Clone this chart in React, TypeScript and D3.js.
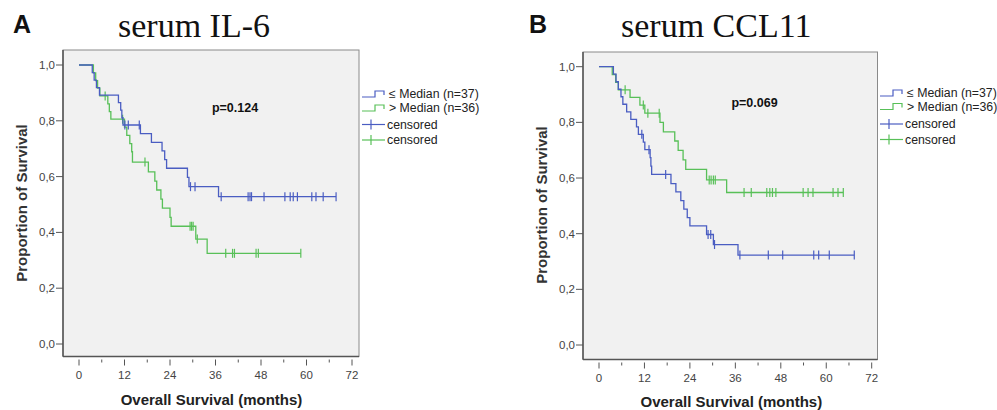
import React from "react";
import * as d3 from "d3";

// ---------- data ----------
const monthTicks = [0, 12, 24, 36, 48, 60, 72];
const monthMinor = [6, 18, 30, 42, 54, 66];
const survTicks = [0, 0.2, 0.4, 0.6, 0.8, 1.0];
const survTickLabels = ["0,0", "0,2", "0,4", "0,6", "0,8", "1,0"];
const legendLabels = ["≤ Median (n=37)", "> Median (n=36)", "censored", "censored"];

// Panel A: serum IL-6  [month, survival after event]
const il6LowEvents: [number, number][] = [
  [3.5, 0.973], [4.0, 0.946], [4.6, 0.919], [5.4, 0.892],
  [10.4, 0.865], [11.0, 0.838], [11.3, 0.811], [11.6, 0.785],
  [16.2, 0.754], [19.1, 0.723], [21.9, 0.692], [22.6, 0.661], [23.1, 0.630],
  [28.6, 0.597], [29.0, 0.564], [36.8, 0.528],
];
const il6LowCensored = [12.1, 13.0, 15.9, 29.4, 30.6, 37.5, 44.6, 45.1, 45.5, 48.8, 54.3, 55.7, 56.5, 57.6, 61.4, 62.5, 64.4, 67.8];

const il6HighEvents: [number, number][] = [
  [3.8, 0.972], [4.4, 0.944], [4.9, 0.917], [5.5, 0.889],
  [7.6, 0.861], [8.0, 0.833], [8.4, 0.806],
  [12.0, 0.777], [12.6, 0.748], [13.4, 0.718], [13.9, 0.689], [14.1, 0.652],
  [18.3, 0.617], [20.0, 0.584], [20.5, 0.552], [21.6, 0.519], [22.0, 0.487],
  [24.0, 0.454], [24.3, 0.422], [30.8, 0.376], [33.8, 0.325],
];
const il6HighCensored = [6.9, 11.5, 17.4, 29.3, 29.7, 30.1, 31.2, 38.7, 40.5, 41.0, 46.7, 47.3, 58.5];

// Panel B: serum CCL11
const cclLowEvents: [number, number][] = [
  [3.8, 0.973], [4.5, 0.946], [5.1, 0.919], [5.8, 0.892], [6.3, 0.865],
  [7.3, 0.838], [8.4, 0.811], [9.9, 0.784], [10.4, 0.757],
  [11.7, 0.729], [12.1, 0.702], [13.5, 0.673], [13.7, 0.643], [13.9, 0.613],
  [19.0, 0.580], [20.3, 0.550], [21.6, 0.519], [22.4, 0.488], [23.3, 0.458], [24.0, 0.428],
  [28.4, 0.397], [30.2, 0.361], [36.7, 0.323],
];
const cclLowCensored = [11.3, 13.2, 17.6, 28.8, 29.5, 30.5, 37.2, 44.7, 48.5, 56.7, 58.0, 60.8, 67.4];

const cclHighEvents: [number, number][] = [
  [3.5, 0.972], [4.4, 0.944], [5.1, 0.917], [8.2, 0.890], [10.8, 0.862],
  [12.1, 0.833], [16.1, 0.800], [17.0, 0.766], [20.0, 0.733], [20.9, 0.699],
  [22.2, 0.665], [22.9, 0.631], [28.4, 0.593], [33.7, 0.548],
];
const cclHighCensored = [6.9, 11.7, 12.9, 15.9, 29.1, 29.6, 30.2, 30.7, 38.3, 40.2, 44.3, 45.1, 45.8, 46.7, 53.9, 55.2, 56.5, 61.8, 63.1, 64.5];

const BLUE = "#4a5dc2";
const GREEN = "#58c058";
const SANS = "'Liberation Sans', Arial, Helvetica, sans-serif";
const SERIF = "'Liberation Serif', 'Times New Roman', serif";

type PanelProps = {
  letter: string;
  title: string;
  pText: string;
  box: { left: number; right: number; top: number; bottom: number };
  xRange: [number, number];
  yRange: [number, number];
  pPos: [number, number];
  legendX: number;
  legendY: number[];
  lowEvents: [number, number][];
  lowCens: number[];
  highEvents: [number, number][];
  highCens: number[];
  letterX: number;
  titleX: number;
  yTitleX: number;
  yTitleY: number;
  xTitleY: number;
};

function survAt(events: [number, number][], t: number) {
  let s = 1;
  for (const [et, es] of events) if (et <= t) s = es;
  return s;
}

function Curve({ events, cens, x, y, color }: any) {
  const last = Math.max(events[events.length - 1][0], ...cens);
  let d = `M${x(0)},${y(1)}`;
  for (const [t, s] of events) d += `H${x(t)}V${y(s)}`;
  d += `H${x(last)}`;
  return (
    <g>
      <path d={d} fill="none" stroke={color} strokeWidth={1.3} />
      {cens.map((t: number, i: number) => {
        const s = survAt(events, t);
        return <line key={i} x1={x(t)} x2={x(t)} y1={y(s) - 4.5} y2={y(s) + 4.5} stroke={color} strokeWidth={1.2} />;
      })}
    </g>
  );
}

function Panel(p: PanelProps) {
  const x = d3.scaleLinear().domain([0, 72]).range(p.xRange);
  const y = d3.scaleLinear().domain([0, 1]).range(p.yRange);
  const { left, right, top, bottom } = p.box;
  const lx = p.legendX;
  return (
    <g>
      <text x={p.letterX} y={33} fontFamily={SANS} fontWeight="bold" fontSize={25} fill="#111">{p.letter}</text>
      <text x={p.titleX} y={37} fontFamily={SERIF} fontSize={34} fill="#111">{p.title}</text>
      <rect x={left} y={top} width={right - left} height={bottom - top} fill="#f1f1f1" stroke="#8a8a8a" strokeWidth={1} />
      <line x1={left} x2={left} y1={top} y2={bottom} stroke="#555" strokeWidth={1.5} />
      <line x1={left} x2={right} y1={bottom} y2={bottom} stroke="#555" strokeWidth={1.5} />
      {survTicks.map((v, i) => (
        <g key={i}>
          <line x1={left - 7} x2={left} y1={y(v)} y2={y(v)} stroke="#555" strokeWidth={1} />
          <text x={left - 8} y={y(v)} dy="0.35em" textAnchor="end" fontFamily={SANS} fontSize={11.5} fill="#444">{survTickLabels[i]}</text>
        </g>
      ))}
      {monthTicks.map((v) => (
        <g key={v}>
          <line x1={x(v)} x2={x(v)} y1={bottom + 3} y2={bottom + 9} stroke="#555" strokeWidth={1} />
          <text x={x(v)} y={bottom + 22} textAnchor="middle" fontFamily={SANS} fontSize={11.5} fill="#444">{v}</text>
        </g>
      ))}
      {monthMinor.map((v) => (
        <line key={v} x1={x(v)} x2={x(v)} y1={bottom + 3} y2={bottom + 6} stroke="#555" strokeWidth={1} />
      ))}
      <text transform={`translate(${p.yTitleX},${p.yTitleY}) rotate(-90)`} textAnchor="middle" fontFamily={SANS} fontWeight="bold" fontSize={15} fill="#333">Proportion of Survival</text>
      <text x={(x(0) + x(72)) / 2 - 4} y={p.xTitleY} textAnchor="middle" fontFamily={SANS} fontWeight="bold" fontSize={15} fill="#222">Overall Survival (months)</text>
      <Curve events={p.highEvents} cens={p.highCens} x={x} y={y} color={GREEN} />
      <Curve events={p.lowEvents} cens={p.lowCens} x={x} y={y} color={BLUE} />
      <text x={p.pPos[0]} y={p.pPos[1]} dy="0.35em" textAnchor="middle" fontFamily={SANS} fontWeight="bold" fontSize={12.5} fill="#111">{p.pText}</text>
      {[BLUE, GREEN].map((c, i) => {
        const yy = p.legendY[i];
        return (
          <g key={i}>
            <path d={`M${lx},${yy + 3}H${lx + 13}V${yy - 3}H${lx + 22}V${yy + 1}`} fill="none" stroke={c} strokeWidth={1.2} />
            <text x={lx + 27} y={yy} dy="0.35em" fontFamily={SANS} fontSize={12.3} fill="#222">{legendLabels[i]}</text>
          </g>
        );
      })}
      {[BLUE, GREEN].map((c, i) => {
        const yy = p.legendY[i + 2];
        return (
          <g key={i}>
            <line x1={lx} x2={lx + 23} y1={yy} y2={yy} stroke={c} strokeWidth={1.2} />
            <line x1={lx + 9} x2={lx + 9} y1={yy - 5} y2={yy + 5} stroke={c} strokeWidth={1.2} />
            <text x={lx + 25} y={yy} dy="0.35em" fontFamily={SANS} fontSize={12.3} fill="#222">{legendLabels[i + 2]}</text>
          </g>
        );
      })}
    </g>
  );
}

export default function App() {
  return (
    <svg width={997} height={410} style={{ position: "absolute", left: 0, top: 0, background: "#fff" }}>
      <Panel
        letter="A" title="serum IL-6" pText="p=0.124"
        box={{ left: 63, right: 359, top: 50, bottom: 356.5 }}
        xRange={[79, 352]} yRange={[344, 65]}
        pPos={[235, 108]}
        legendX={362} legendY={[94, 108, 124.5, 140]}
        lowEvents={il6LowEvents} lowCens={il6LowCensored}
        highEvents={il6HighEvents} highCens={il6HighCensored}
        letterX={13} titleX={118} yTitleX={27} yTitleY={203} xTitleY={405}
      />
      <Panel
        letter="B" title="serum CCL11" pText="p=0.069"
        box={{ left: 583, right: 877.5, top: 52, bottom: 359.5 }}
        xRange={[599, 871.7]} yRange={[345, 66.7]}
        pPos={[754.5, 103]}
        legendX={880} legendY={[93, 106.5, 124, 139.5]}
        lowEvents={cclLowEvents} lowCens={cclLowCensored}
        highEvents={cclHighEvents} highCens={cclHighCensored}
        letterX={529} titleX={621} yTitleX={547} yTitleY={205} xTitleY={406.5}
      />
    </svg>
  );
}
